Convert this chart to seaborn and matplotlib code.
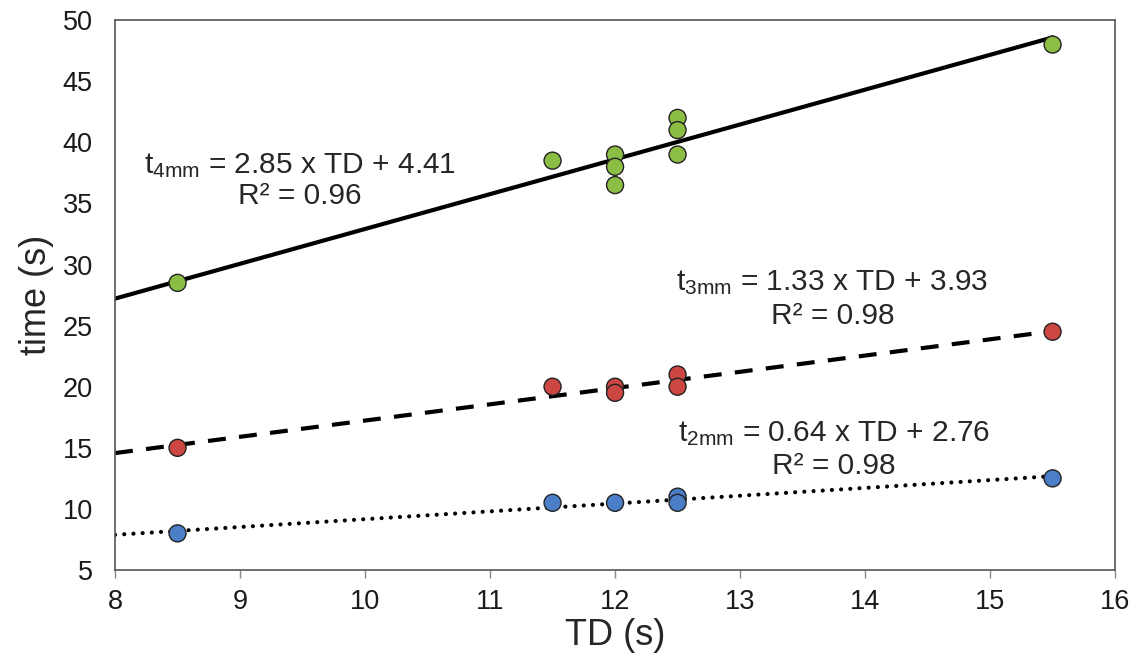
import numpy as np
import pandas as pd
import matplotlib
matplotlib.use("Agg")
import matplotlib.pyplot as plt
import seaborn as sns

# valori
td_4mm = [8.5, 11.5, 12, 12, 12, 12.5, 12.5, 12.5, 15.5]
t_4mm = [28.5, 38.5, 39, 38, 36.5, 42, 41, 39, 48]
td_3mm = [8.5, 11.5, 12, 12, 12.5, 12.5, 15.5]
t_3mm = [15, 20, 20, 19.5, 21, 20, 24.5]
td_2mm = [8.5, 11.5, 12, 12.5, 12.5, 15.5]
t_2mm = [8, 10.5, 10.5, 11, 10.5, 12.5]

# rette di regressione (dalle equazioni nel grafico)
series = ["4mm", "3mm", "2mm"]
slopes = [2.85, 1.33, 0.64]
intercepts = [4.41, 3.93, 2.76]
r2 = [0.96, 0.98, 0.98]
colors = {"4mm": "#8cbd45", "3mm": "#cc4742", "2mm": "#4a7fc8"}

ds = pd.concat([
    pd.DataFrame({"TD": td_4mm, "time": t_4mm, "size": "4mm"}),
    pd.DataFrame({"TD": td_3mm, "time": t_3mm, "size": "3mm"}),
    pd.DataFrame({"TD": td_2mm, "time": t_2mm, "size": "2mm"}),
])

sns.set_theme(style="white")
plt.rcParams["font.family"] = ["Liberation Sans", "DejaVu Sans"]
plt.rcParams["mathtext.default"] = "regular"
plt.rcParams["mathtext.fontset"] = "custom"
plt.rcParams["mathtext.rm"] = "Liberation Sans"

fig = plt.figure(figsize=(11.39, 6.71), dpi=100)
ax = fig.add_axes([0.101, 0.1505, 0.878, 0.8195])

styles = {"4mm": "-", "3mm": (0, (4.3, 3.2)), "2mm": (0, (0.01, 2.2))}
widths = {"4mm": 3, "3mm": 3, "2mm": 3}
x_fit = np.array([8, 15.5])
for s, a, b in zip(series, slopes, intercepts):
    line = pd.DataFrame({"TD": x_fit, "time": a * x_fit + b})
    sns.lineplot(data=line, x="TD", y="time", ax=ax, color="black",
                 linestyle=styles[s], linewidth=widths[s],
                 dash_capstyle="round" if s == "2mm" else "butt", zorder=2)

sns.scatterplot(data=ds, x="TD", y="time", hue="size", palette=colors, s=150,
                edgecolor="#222222", linewidth=1, ax=ax, legend=False, zorder=3)

# etichette delle equazioni
fs = 21.5
ax.text(9.48, 38.1, "t$_{4mm}$ = 2.85 x TD + 4.41", fontsize=fs, ha="center", va="center")
ax.text(9.48, 35.6, "R² = 0.96", fontsize=fs, ha="center", va="center")
ax.text(13.74, 28.5, "t$_{3mm}$ = 1.33 x TD + 3.93", fontsize=fs, ha="center", va="center")
ax.text(13.74, 25.8, "R² = 0.98", fontsize=fs, ha="center", va="center")
ax.text(13.75, 16.2, "t$_{2mm}$ = 0.64 x TD + 2.76", fontsize=fs, ha="center", va="center")
ax.text(13.75, 13.5, "R² = 0.98", fontsize=fs, ha="center", va="center")

ax.set_xlim(8, 16)
ax.set_ylim(5, 50)
ax.set_xticks(range(8, 17))
ax.set_yticks(range(5, 51, 5))
ax.tick_params(axis="both", labelsize=19.5, colors="#1a1a1a")
ax.tick_params(axis="x", bottom=True, length=6, width=1, color="#888888", pad=8)
ax.tick_params(axis="y", left=False, pad=10)
for sp in ax.spines.values():
    sp.set_color("#555555")
    sp.set_linewidth(1.2)
ax.set_xlabel("TD (s)", fontsize=26, labelpad=2)
ax.set_ylabel("time (s)", fontsize=26, labelpad=6)

fig.savefig("out.png", dpi=100)
